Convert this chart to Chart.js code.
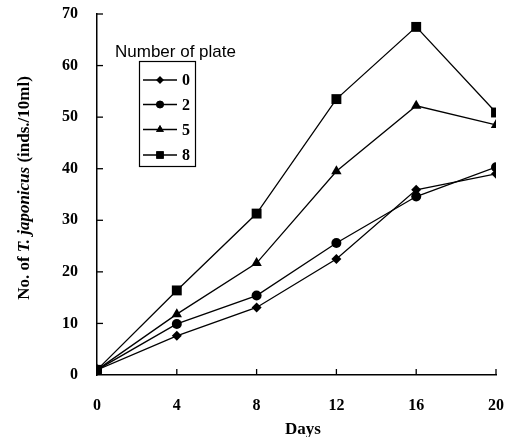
<!DOCTYPE html>
<html>
<head>
<meta charset="utf-8">
<script src="https://cdn.jsdelivr.net/npm/chart.js@4"></script>
<style>
  html, body { margin: 0; padding: 0; background: #fff; }
  #wrap { width: 515px; height: 437px; }
</style>
</head>
<body>
<div id="wrap"><canvas id="plateChart" width="515" height="437"></canvas></div>
<script>
// ---- data ----
const days = [0, 4, 8, 12, 16, 20];
const plate0 = [1, 7.6, 13.1, 22.5, 35.9, 39.0];
const plate2 = [1, 9.9, 15.4, 25.6, 34.6, 40.3];
const plate5 = [1, 11.8, 21.7, 39.5, 52.2, 48.5];
const plate8 = [1, 16.4, 31.3, 53.5, 67.5, 50.9];
const yTicks = [0, 10, 20, 30, 40, 50, 60, 70];
const seriesLabels = ['0', '2', '5', '8'];
const legendTitle = 'Number of plate';
const xTitle = 'Days';

const SERIF = '"Liberation Serif", "Times New Roman", serif';
const SANS = '"Liberation Sans", Arial, sans-serif';

const markers = [
    { style: 'rectRot', radius: 5 },
    { style: 'circle', radius: 5 },
    { style: 'triangle', radius: 6 },
    { style: 'rect', radius: 7 }
];

function makeSet(label, values, i) {
    return {
        label: label,
        data: days.map((d, k) => ({ x: d, y: values[k] })),
        borderColor: '#000',
        backgroundColor: '#000',
        borderWidth: 1.3,
        pointStyle: markers[i].style,
        pointRadius: markers[i].radius,
        pointBorderWidth: 0,
        tension: 0
    };
}

// inward ticks on both axes, axis titles, boxed legend
const decorPlugin = {
    id: 'decor',
    afterDraw(chart) {
        const ctx = chart.ctx;
        const xs = chart.scales.x;
        const ys = chart.scales.y;
        const area = chart.chartArea;
        ctx.save();
        ctx.strokeStyle = '#000';
        ctx.fillStyle = '#000';
        ctx.lineWidth = 1.3;
        days.forEach(d => {
            if (d === 0) return;
            const px = xs.getPixelForValue(d);
            ctx.beginPath();
            ctx.moveTo(px, area.bottom);
            ctx.lineTo(px, area.bottom - 6);
            ctx.stroke();
        });
        yTicks.forEach(v => {
            if (v === 0) return;
            const py = ys.getPixelForValue(v);
            ctx.beginPath();
            ctx.moveTo(area.left, py);
            ctx.lineTo(area.left + 6, py);
            ctx.stroke();
        });

        // x title
        ctx.font = 'bold 17px ' + SERIF;
        ctx.textAlign = 'center';
        ctx.textBaseline = 'middle';
        ctx.fillText(xTitle, 303, 430);

        // y title, species name in italics
        const parts = [
            { t: 'No. of ', f: 'bold 17px ' + SERIF },
            { t: 'T. japonicus', f: 'italic bold 17px ' + SERIF },
            { t: ' (inds./10ml)', f: 'bold 17px ' + SERIF }
        ];
        let total = 0;
        parts.forEach(p => { ctx.font = p.f; p.w = ctx.measureText(p.t).width; total += p.w; });
        ctx.translate(25, 188);
        ctx.rotate(-Math.PI / 2);
        ctx.textAlign = 'left';
        let cx = -total / 2;
        parts.forEach(p => { ctx.font = p.f; ctx.fillText(p.t, cx, 0); cx += p.w; });
        ctx.setTransform(1, 0, 0, 1, 0, 0);

        // legend
        ctx.font = '17px ' + SANS;
        ctx.textAlign = 'left';
        ctx.textBaseline = 'middle';
        ctx.fillText(legendTitle, 115, 52);
        ctx.lineWidth = 1.2;
        ctx.strokeRect(139.5, 61.5, 56, 105);
        const rowY = [80, 104.5, 129.5, 155];
        chart.data.datasets.forEach((ds, i) => {
            const y = rowY[i];
            ctx.lineWidth = 1.3;
            ctx.beginPath();
            ctx.moveTo(143, y);
            ctx.lineTo(177, y);
            ctx.stroke();
            Chart.helpers.drawPoint(ctx, {
                pointStyle: ds.pointStyle,
                radius: ds.pointRadius * 0.75,
                rotation: 0,
                borderWidth: 0
            }, 160, y);
            ctx.fill();
            ctx.font = 'bold 16px ' + SERIF;
            ctx.fillText(seriesLabels[i], 182, y + 1);
        });
        ctx.restore();
    }
};

new Chart(document.getElementById('plateChart'), {
    type: 'line',
    data: {
        datasets: [
            makeSet(seriesLabels[0], plate0, 0),
            makeSet(seriesLabels[1], plate2, 1),
            makeSet(seriesLabels[2], plate5, 2),
            makeSet(seriesLabels[3], plate8, 3)
        ]
    },
    options: {
        responsive: false,
        animation: false,
        layout: { padding: { top: 14, right: 19, left: 0, bottom: 0 } },
        plugins: {
            legend: { display: false },
            tooltip: { enabled: false }
        },
        scales: {
            x: {
                type: 'linear',
                min: 0,
                max: 20,
                afterFit: s => {
                    s.height = 62;
                    s.paddingLeft = 0;
                    s.paddingRight = 0;
                },
                afterBuildTicks: s => { s.ticks = days.map(v => ({ value: v })); },
                grid: { display: true, drawOnChartArea: false, drawTicks: false },
                border: { color: '#000', width: 1.5 },
                ticks: {
                    color: '#000',
                    padding: 21,
                    font: { family: SERIF, size: 16, weight: 'bold' }
                }
            },
            y: {
                min: 0,
                max: 70,
                afterFit: s => {
                    s.width = 97;
                    s.paddingTop = 0;
                    s.paddingBottom = 0;
                },
                afterBuildTicks: s => { s.ticks = yTicks.map(v => ({ value: v })); },
                grid: { display: true, drawOnChartArea: false, drawTicks: false },
                border: { color: '#000', width: 1.5 },
                ticks: {
                    color: '#000',
                    padding: 19,
                    font: { family: SERIF, size: 16, weight: 'bold' }
                }
            }
        }
    },
    plugins: [decorPlugin]
});
</script>
</body>
</html>
